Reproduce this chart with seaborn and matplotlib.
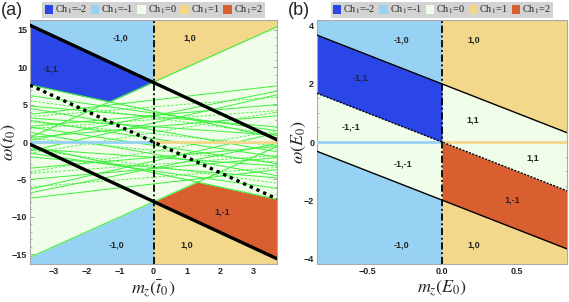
import numpy as np
import pandas as pd
import matplotlib
matplotlib.use('Agg')
import matplotlib.pyplot as plt
import seaborn as sns
from matplotlib.patches import Patch
from matplotlib.ticker import MultipleLocator

sns.set_theme(style='ticks')
plt.rcParams['font.family'] = ['Liberation Sans', 'DejaVu Sans']
plt.rcParams['mathtext.fontset'] = 'stix'

# Farben der Chern-Bereiche
c_dblue = '#2b46e6'
c_lblue = '#97d2f5'
c_green = '#f0fde8'
c_gold = '#f3d78b'
c_red = '#d95e30'
c_line = '#3ef03e'
ch_colors = [c_dblue, c_lblue, c_green, c_gold, c_red]
ch_labels = ['Ch$_1$=-2', 'Ch$_1$=-1', 'Ch$_1$=0', 'Ch$_1$=1', 'Ch$_1$=2']

# Panel (a): Werte der Geraden bei mz = -3.7 und mz = 3.7
a_mz = [-3.7, 3.7]
a_black_top = [15.6, 0.3]
a_black_bot = [-0.3, -15.6]
a_dotted = [7.6, -7.6]
a_g1 = [0.6, 15.4]
a_g2 = [7.65, 0.55]
a_g3 = [-15.4, -0.6]
a_g4 = [-0.55, -7.65]

# duenne gruene Linien (links, rechts)
solid_left = [4.8, 3.7, 2.9, 2.1, 1.3, 0.6, -2.0, -7.5, 2.0, -5.0, 4.5, -3.5,
              6.2, -1.5, 3.2, -0.9, -1.2, -6.3, 0.2, -6.8]
solid_right = [2.0, 7.5, -2.0, 5.0, -4.5, 3.5, -4.8, -3.7, -2.9, -2.1, -1.3, -0.6,
               1.5, -6.2, 0.9, -3.2, 6.3, 1.2, 6.8, -0.2]
dash_left = [3.4, -6.0, 2.7, 0.5, 5.5, -1.0, -4.0, -1.5, 1.8, -4.2]
dash_right = [6.0, -3.4, -0.5, -2.7, 1.0, -5.5, 1.5, 4.0, 4.2, -1.8]

# Beschriftungen (a)
a_lab_txt = ['-1,0', '1,0', '-1,1', '1,-1', '-1,0', '1,0']
a_lab_x = [-1.0, 1.1, -3.1, 2.05, -1.1, 1.0]
a_lab_y = [13.9, 13.9, 9.7, -9.3, -13.8, -13.8]

# Panel (b)
b_mz = [-0.84, 0.84]
b_black_top = [3.68, 0.32]
b_dotted = [1.68, -1.68]
b_black_bot = [-0.32, -3.68]

b_lab_txt = ['-1,0', '1,0', '-1,1', '-1,-1', '1,1', '1,1', '-1,-1', '1,-1', '-1,0', '1,0']
b_lab_x = [-0.27, 0.21, -0.55, -0.61, 0.21, 0.61, -0.26, 0.47, -0.27, 0.21]
b_lab_y = [3.5, 3.5, 2.2, 0.53, 0.76, -0.54, -0.75, -2.0, -3.54, -3.54]


def seg_df(left, right, xs):
    rows = []
    for i, (l, r) in enumerate(zip(left, right)):
        rows.append({'mz': xs[0], 'w': l, 'id': i})
        rows.append({'mz': xs[1], 'w': r, 'id': i})
    return pd.DataFrame(rows)


def style_axes(ax, xmaj, xmin, ymaj, ymin):
    ax.xaxis.set_major_locator(MultipleLocator(xmaj))
    ax.xaxis.set_minor_locator(MultipleLocator(xmin))
    ax.yaxis.set_major_locator(MultipleLocator(ymaj))
    ax.yaxis.set_minor_locator(MultipleLocator(ymin))
    ax.tick_params(which='both', direction='in', top=True, right=True, color='#999999',
                   labelsize=6.5, pad=2)
    ax.tick_params(which='major', length=3, width=0.6)
    ax.tick_params(which='minor', length=1.5, width=0.5)
    for t in ax.get_xticklabels() + ax.get_yticklabels():
        t.set_fontweight('bold')
    for s in ax.spines.values():
        s.set_color('#aaaaaa')
        s.set_linewidth(0.8)
    handles = [Patch(facecolor=c, edgecolor='none') for c in ch_colors]
    leg = ax.legend(handles, ch_labels, loc='lower center', bbox_to_anchor=(0.5, 1.0),
                    ncol=5, handlelength=0.8, handleheight=0.9,
                    handletextpad=0.2, columnspacing=0.35, borderpad=0.2,
                    borderaxespad=0.15, frameon=True, fancybox=False,
                    prop={'family': 'Liberation Serif', 'size': 7.5})
    leg.get_frame().set_facecolor('#d3d3d3')
    leg.get_frame().set_edgecolor('none')
    leg.get_frame().set_alpha(1)


fig = plt.figure(figsize=(5.69, 3.02), dpi=100)
ax1 = fig.add_axes([30 / 569, 38 / 302, 247 / 569, 244 / 302])
ax2 = fig.add_axes([317 / 569, 38 / 302, 250 / 569, 244 / 302])

# ---------- Panel (a) ----------
ax1.set_facecolor(c_green)
ylim_a = 16.3
m = np.linspace(-3.7, 3.7, 741)
top = np.interp(m, a_mz, a_black_top)
bot = np.interp(m, a_mz, a_black_bot)
g1 = np.interp(m, a_mz, a_g1)
g2 = np.interp(m, a_mz, a_g2)
g3 = np.interp(m, a_mz, a_g3)
g4 = np.interp(m, a_mz, a_g4)
neg = m <= 0
pos = m >= 0

sns.lineplot(data=seg_df(solid_left, solid_right, a_mz), x='mz', y='w', units='id',
             estimator=None, sort=False, color=c_line, lw=0.7, ax=ax1, zorder=1.5)
sns.lineplot(data=seg_df(dash_left, dash_right, a_mz), x='mz', y='w', units='id',
             estimator=None, sort=False, color=c_line, lw=0.6, ls=(0, (3, 2)), ax=ax1,
             zorder=1.5)

ax1.fill_between(m, top, ylim_a + 1, where=neg, color=c_lblue, lw=0, zorder=2)
ax1.fill_between(m, np.maximum(g1, g2), top, where=neg, color=c_dblue, lw=0, zorder=2)
ax1.fill_between(m, g1, ylim_a + 1, where=pos, color=c_gold, lw=0, zorder=2)
ax1.fill_between(m, bot, np.minimum(g3, g4), where=pos, color=c_red, lw=0, zorder=2)
ax1.fill_between(m, -ylim_a - 1, bot, where=pos, color=c_gold, lw=0, zorder=2)
ax1.fill_between(m, -ylim_a - 1, g3, where=neg, color=c_lblue, lw=0, zorder=2)

bounds = seg_df([a_g1[0], a_g2[0], a_g3[0], a_g4[0]], [a_g1[1], a_g2[1], a_g3[1], a_g4[1]], a_mz)
sns.lineplot(data=bounds, x='mz', y='w', units='id', estimator=None, sort=False,
             color=c_line, lw=0.8, ax=ax1, zorder=2.5)

ax1.plot([-3.7, 0], [0, 0], color=c_lblue, lw=2, zorder=3)
ax1.plot([0, 3.7], [0, 0], color=c_gold, lw=2, zorder=3)
sns.lineplot(x=a_mz, y=a_black_top, color='black', lw=2.4, ax=ax1, zorder=4)
sns.lineplot(x=a_mz, y=a_black_bot, color='black', lw=2.4, ax=ax1, zorder=4)
sns.lineplot(x=a_mz, y=a_dotted, color='black', lw=2.4, ls=(0, (1, 1.2)), ax=ax1, zorder=4)
ax1.axvline(0, color='black', lw=1.3, ls=(0, (4, 1.5, 1, 1.5)), zorder=5)

for t, x, y in zip(a_lab_txt, a_lab_x, a_lab_y):
    ax1.text(x, y, t, fontsize=6.5, fontweight='bold', ha='center', va='center', zorder=6)

ax1.set_xlim(-3.7, 3.7)
ax1.set_ylim(-ylim_a, ylim_a)
ax1.set_xlabel(r'$m_z(\bar{t}_0)$', fontsize=13, labelpad=2)
ax1.set_ylabel(r'$\omega(\bar{t}_0)$', fontsize=13)
ax1.yaxis.set_label_coords(-0.048, 0.5)
style_axes(ax1, 1, 0.2, 5, 1)

# ---------- Panel (b) ----------
ax2.set_facecolor(c_green)
ylim_b = 4.2
mb = np.linspace(-0.84, 0.84, 841)
tb = np.interp(mb, b_mz, b_black_top)
db = np.interp(mb, b_mz, b_dotted)
bb = np.interp(mb, b_mz, b_black_bot)
nb = mb <= 0
pb = mb >= 0
ax2.fill_between(mb, tb, ylim_b + 1, where=nb, color=c_lblue, lw=0, zorder=2)
ax2.fill_between(mb, db, tb, where=nb, color=c_dblue, lw=0, zorder=2)
ax2.fill_between(mb, -ylim_b - 1, bb, where=nb, color=c_lblue, lw=0, zorder=2)
ax2.fill_between(mb, tb, ylim_b + 1, where=pb, color=c_gold, lw=0, zorder=2)
ax2.fill_between(mb, bb, db, where=pb, color=c_red, lw=0, zorder=2)
ax2.fill_between(mb, -ylim_b - 1, bb, where=pb, color=c_gold, lw=0, zorder=2)

ax2.plot([-0.84, 0], [0, 0], color=c_lblue, lw=2, zorder=3)
ax2.plot([0, 0.84], [0, 0], color=c_gold, lw=2, zorder=3)
sns.lineplot(x=b_mz, y=b_black_top, color='black', lw=1.0, ax=ax2, zorder=4)
sns.lineplot(x=b_mz, y=b_black_bot, color='black', lw=1.0, ax=ax2, zorder=4)
sns.lineplot(x=b_mz, y=b_dotted, color='black', lw=1.0, ls=(0, (1.5, 1)), ax=ax2, zorder=4)
ax2.axvline(0, color='black', lw=1.3, ls=(0, (4, 1.5, 1, 1.5)), zorder=5)

for t, x, y in zip(b_lab_txt, b_lab_x, b_lab_y):
    ax2.text(x, y, t, fontsize=6.5, fontweight='bold', ha='center', va='center', zorder=6)

ax2.set_xlim(-0.84, 0.84)
ax2.set_ylim(-ylim_b, ylim_b)
ax2.set_xlabel(r'$m_z(E_0)$', fontsize=13, labelpad=2)
ax2.set_ylabel(r'$\omega(E_0)$', fontsize=13)
ax2.yaxis.set_label_coords(-0.035, 0.5)
style_axes(ax2, 0.5, 0.1, 2, 0.5)

fig.text(0.002, 0.995, '(a)', fontsize=13, va='top', ha='left')
fig.text(288 / 569, 0.995, '(b)', fontsize=13, va='top', ha='left')

fig.savefig('out.png', dpi=100)
